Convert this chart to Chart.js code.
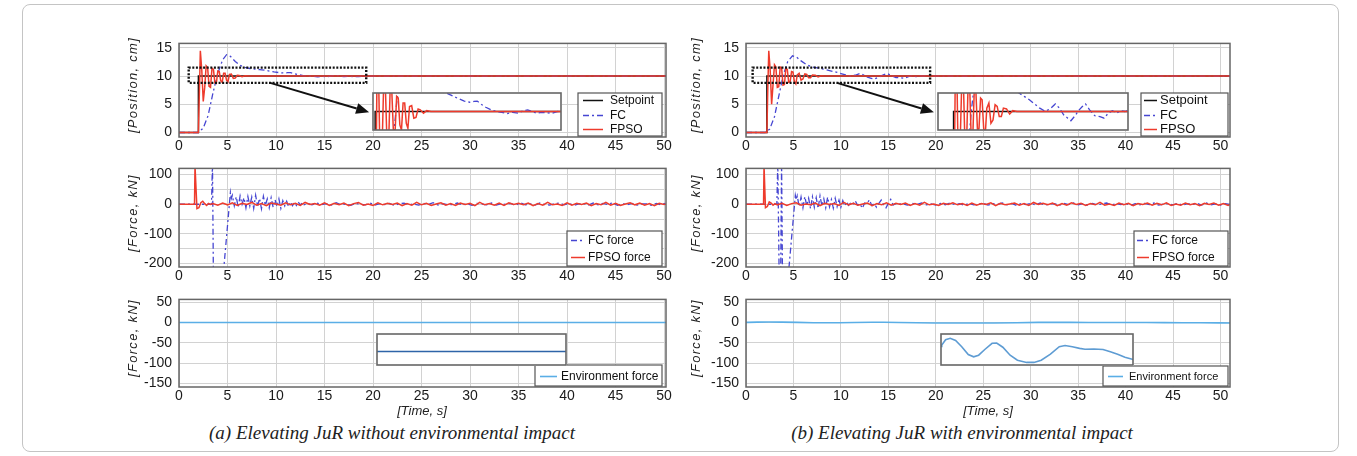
<!DOCTYPE html>
<html><head><meta charset="utf-8">
<script src="https://cdn.jsdelivr.net/npm/chart.js@4.4.0/dist/chart.umd.min.js"></script>
<style>
html,body{margin:0;padding:0;background:#fff;}
body{width:1357px;height:456px;position:relative;overflow:hidden;font-family:"Liberation Sans",Arial,sans-serif;}
#frame{position:absolute;left:22px;top:4px;width:1315px;height:446px;border:1px solid #c4c4c4;border-radius:8px;}
.cv{position:absolute;}
.ytitle{position:absolute;font-style:italic;font-size:13px;letter-spacing:1.3px;color:#222;white-space:nowrap;transform:translate(-50%,-50%) rotate(-90deg);}
.xtitle{position:absolute;font-style:italic;font-size:13px;color:#222;transform:translate(-50%,-50%);white-space:nowrap;}
.caption{position:absolute;font-family:"Liberation Serif","Times New Roman",serif;font-style:italic;font-size:19px;color:#222;transform:translate(-50%,-50%);white-space:nowrap;}
</style></head>
<body>
<div id="frame"></div>
<script>
// ---------------- DATA ----------------
const timeTicks = [0,5,10,15,20,25,30,35,40,45,50];
const posTicks = [0,5,10,15];
const frcGrid = [-200,-150,-100,-50,0,50,100];
const frcLabels = [-200,-100,0,100];
const envTicks = [-150,-100,-50,0,50];

// (a) position [time s, cm]
const setpointA = [[0,0],[2.0,0],[2.0,10],[51,10]];
const fpsoPosA = [[0,0],[2.0,0],[2.1,7],[2.2,14.5],[2.35,11],[2.5,5.5],[2.65,8],[2.8,11.8],[2.95,11.5],[3.1,8.2],[3.25,8.0],[3.4,11.4],[3.55,11.2],[3.7,8.8],[3.85,8.7],[4.0,10.9],[4.15,10.8],[4.3,9.2],[4.45,8.9],[4.6,10.5],[4.75,10.5],[4.9,9.3],[5.05,9.0],[5.2,10.3],[5.4,10.35],[5.6,9.6],[5.8,9.65],[6.0,10.15],[6.2,10.1],[6.5,9.9],[6.8,10.05],[7.2,10],[51,10]];
const fcPosA = [[0,0],[2.0,0],[2.5,0.8],[3.0,3.0],[3.5,7.0],[4.0,10.5],[4.5,12.9],[4.9,13.8],[5.3,13.5],[5.8,12.6],[6.3,11.9],[6.8,11.55],[7.3,11.35],[7.8,11.25],[8.3,11.15],[8.8,11.05],[9.3,10.9],[9.8,10.75],[10.3,10.62],[10.8,10.55],[11.2,10.6],[11.5,10.62],[11.9,10.42],[12.3,10.25],[12.8,10.1],[13.3,10.0],[13.8,9.95],[14.3,9.88],[14.8,9.95],[15.3,9.9],[15.8,10.05],[16.2,10.1],[16.6,10.0],[17.0,9.9],[17.5,9.95],[18.0,9.92],[18.5,9.9],[19.0,10.0],[20,10],[51,10]];

// (b) position
const setpointB = [[0,0],[2.2,0],[2.2,10],[51,10]];
const fpsoPosB = [[0,0],[2.2,0],[2.3,8],[2.4,14.5],[2.55,11],[2.7,5],[2.85,8.5],[3.0,12],[3.15,11.6],[3.3,8.0],[3.45,8.1],[3.6,11.6],[3.75,11.5],[3.9,8.4],[4.05,8.5],[4.2,11.4],[4.35,11.2],[4.5,8.9],[4.65,9.0],[4.8,10.8],[4.95,10.7],[5.1,9.0],[5.25,8.6],[5.4,10.2],[5.6,10.5],[5.8,9.3],[6.0,9.5],[6.2,10.4],[6.4,10.3],[6.6,9.7],[6.8,9.7],[7.0,10.2],[7.3,10.15],[7.6,9.85],[7.9,10.05],[8.3,10],[51,10]];
const fcPosB = [[0,0],[2.0,0],[2.5,0.6],[3.0,2.8],[3.5,6.8],[3.9,10],[4.4,12.6],[4.9,13.6],[5.3,13.4],[5.8,12.7],[6.4,12.0],[7.0,11.6],[7.5,11.45],[8.0,11.3],[8.5,11.1],[9.0,10.9],[9.5,10.7],[10.0,10.45],[10.5,10.2],[11.0,10.02],[11.5,10.15],[12.0,10.45],[12.4,10.2],[12.8,9.8],[13.2,9.6],[13.5,9.45],[13.9,9.75],[14.3,10.1],[14.6,10.3],[14.9,10.45],[15.3,10.1],[15.8,9.75],[16.3,9.7],[16.7,9.6],[17.1,9.9],[17.5,10.05],[17.9,9.9],[18.3,10.05],[18.7,10.0],[19.2,10.1],[20,10],[51,10]];

// (a) forces [time s, kN]
const fpsoFrcA = [[0,0],[1.6,0],[1.65,130],[1.75,130],[1.85,-15],[2.05,-12],[2.25,5],[2.45,10],[2.65,2],[2.85,-4],[3.05,3],[3.25,-1]];
const fpsoFrcTailA = [2,-3,4,-2,5,-4,3,-1,6,-3, 2,-5,4,1,-3,5,-2,3,-4,6, -1,2,-3,5,-4,3,-2,4,-5,2, 6,-3,1,-4,5,-2,3,-1,4,-5, 2,-3,6,-2,3,-4,1,5,-3,2, -4,4,-1,3,-5,6,-2,2,-3,4, -4,5,-1,3,-2,4,-5,2,-3,6, -2,1,-4,5,-3,3,-1,4,-5,2, -2,6,-3,3,-4,1,5,-2,4,-3, 2,-5,3,-1,4,-2,3,-4,5,-1];
const fcFrcA = [[0,0],[3.35,0],[3.45,140],[3.55,-260],[4.5,-260],[5.3,40],[5.4,20]];
const fcFrcMidA = [30,-5,25,-10,28,0,22,-12,26,-6,24,-14,30,-8,20,-15,27,-4,18,-12,22,-10,15,-8,18,-14,12,-6,10,-9,8,-5,6,-4,7,-3,5,-2];
const fcFrcTailA = [3,-2,4,-1,2,-3,5,-2,1,-4, 3,0,-2,4,-3,2,-1,3,-4,2, 4,-2,1,-3,3,-1,5,-3,2,-2, -1,4,-3,2,-4,3,1,-2,4,-3, 2,-1,3,-4,5,-2,1,-3,4,-1, -3,2,4,-2,3,-4,1,2,-3,4, -2,3,-1,5,-4,2,-2,3,-3,1, 1,-4,3,-2,4,-1,2,-3];

// (b) forces
const fpsoFrcB = [[0,0],[1.85,0],[1.9,130],[1.95,130],[2.05,-12],[2.25,-8],[2.45,8],[2.65,4],[2.85,-3],[3.05,2]];
const fpsoFrcTailB = [-2,3,-4,2,5,-3,1,-2,4,-5, 3,-1,2,-4,6,-2,3,-3,1,4, -5,2,-2,5,-3,3,-1,4,-4,2, -3,6,-2,1,-4,3,-1,5,-2,2, -4,4,-3,2,-1,5,-5,3,-2,1, 4,-3,2,-4,6,-1,3,-2,4,-5, 2,-3,5,-1,3,-4,2,-2,6,-3, 1,-4,4,-2,3,-5,2,-1,4,-3, 3,-2,5,-4,1,-3,4,-2,2,-5, 3,-1,4,-3,2,-4,5,-2,1,-3];
const fcFrcB = [[0,0],[3.25,0],[3.35,140],[3.5,-260],[3.65,-260],[3.75,140],[3.85,-260],[4.4,-260],[5.2,30],[5.3,15]];
const fcFrcMidB = [28,-8,24,-12,26,-5,20,-15,25,-10,22,-14,28,-6,18,-12,24,-9,16,-13,20,-8,14,-10,12,-6,9,-4];
const fcFrcSpikeB = [3,-2,12,-3,2,-14,4,1,15,-4,2,-10,3,14,-2,-12,3,16,-3,2,-2,1];
const fcFrcTailB = [2,-3,3,-1,4,-2,1,-3,3,-2, 4,-1,2,-4,3,-2,1,3,-3,2, -1,4,-2,3,-4,2,-1,3,-2,4, -3,1,2,-4,3,-1,4,-2,2,-3, 3,-2,1,4,-3,2,-1,3,-4,2, -2,3,-1,4,-3,1,2,-2,3,-4, 2,-1,3,-3,4,-2,1,-3,2,-1];

// environment force [time s, kN]
const envA = [[0,0],[51,0]];
const envB = [[0,0.3],[0.2,0.42],[1.2,0.95],[2.4,1.09],[3.8,0.87],[5.4,0.27],[7.1,-0.49],[8.5,-0.71],[9.8,-0.55],[11.4,0.0],[13.3,0.6],[14.5,0.63],[16.1,0.22],[18.0,-0.55],[19.9,-1.04],[22.3,-1.25],[24.2,-1.25],[26.1,-1.04],[28.5,-0.44],[30.8,0.27],[32.3,0.38],[34.2,0.27],[36.1,0.11],[37.5,0.03],[39.8,0.05],[42.2,0.0],[44.1,-0.22],[46.0,-0.46],[47.9,-0.76],[49.8,-0.95],[51,-1.05]];

// ---------------- LAYOUT ----------------
const COLS = {
  a:{cl:125, pl:179, pr:666, xMax:50.2, titleX:132, timeX:422, capX:392},
  b:{cl:688, pl:746, pr:1230, xMax:51, titleX:695, timeX:988, capX:962}
};
const ROWS = {
  pos:{ct:28, pt:33, pb:137, cb:156, yMin:-0.8, yMax:15.8},
  frc:{ct:153, pt:158, pb:267, cb:287, yMin:-212, yMax:121},
  env:{ct:284, pt:289, pb:387, cb:406, yMin:-159, yMax:57}
};

Chart.defaults.font.family = '"Liberation Sans", Arial, sans-serif';
Chart.defaults.color = '#1a1a1a';

const pts = arr => arr.map(([x,y]) => ({x, y}));
const tail = (t0, dt, vals) => vals.map((v,i) => ({x: +(t0 + i*dt).toFixed(3), y: v}));

const STY = {
  setpoint:{borderColor:'#111111', borderWidth:1.5, order:3},
  fc:{borderColor:'#4646d2', borderWidth:1.3, borderDash:[6,3,2,3], order:2},
  fpso:{borderColor:'#ee3b2c', borderWidth:1.5, order:1},
  env:{borderColor:'#5aaee6', borderWidth:1.6, order:1}
};
function ds(label, data, sty){ return Object.assign({label, data, pointRadius:0, tension:0, fill:false}, sty); }

// ---------------- PLUGINS ----------------
const frameBox = {
  id:'frameBox',
  beforeDraw(ch, a, o){
    if (o && o.bg){ const c=ch.ctx; c.save(); c.fillStyle='#fff'; c.fillRect(0,0,ch.width,ch.height); c.restore(); }
  },
  afterDraw(ch, a, o){
    const c=ch.ctx, ca=ch.chartArea; c.save();
    c.strokeStyle=(o&&o.color)||'#666'; c.lineWidth=(o&&o.width)||1.5;
    c.strokeRect(ca.left, ca.top, ca.right-ca.left, ca.bottom-ca.top); c.restore();
  }
};
const boxLegend = {
  id:'boxLegend',
  afterDraw(ch, a, o){
    if (!o || !o.w) return;
    const c=ch.ctx, ca=ch.chartArea;
    const x=ca.right-o.mr-o.w, y=ca.bottom-o.mb-o.h;
    c.save(); c.fillStyle='#fff'; c.fillRect(x,y,o.w,o.h);
    c.strokeStyle='#555'; c.lineWidth=1.2; c.strokeRect(x,y,o.w,o.h);
    const items = ch.data.datasets;
    const rh = o.h/items.length;
    items.forEach((d,i)=>{
      const cy = Math.round(y + rh*(i+0.5)) + 0.5;
      c.strokeStyle=d.borderColor; c.lineWidth=d.borderWidth||1.5; c.setLineDash(d.borderDash||[]);
      c.beginPath(); c.moveTo(x+o.lx0, cy); c.lineTo(x+o.lx1, cy); c.stroke(); c.setLineDash([]);
      c.fillStyle='#111'; c.font=o.fs+'px "Liberation Sans", Arial, sans-serif'; c.textBaseline='middle';
      c.fillText(d.label, x+o.tx, cy);
    });
    c.restore();
  }
};
const annot = {
  id:'annot',
  afterDatasetsDraw(ch, a, o){
    if (!o || !o.rect) return;
    const c=ch.ctx, X=v=>ch.scales.x.getPixelForValue(v), Y=v=>ch.scales.y.getPixelForValue(v);
    c.save(); c.strokeStyle='#111'; c.lineWidth=2.4; c.setLineDash([2,1.6]);
    c.strokeRect(X(o.rect[0]), Y(o.rect[3]), X(o.rect[1])-X(o.rect[0]), Y(o.rect[2])-Y(o.rect[3]));
    c.setLineDash([]);
    const x1=X(o.arrow[0]), y1=Y(o.arrow[1]), x2=X(o.arrow[2]), y2=Y(o.arrow[3]);
    const ang=Math.atan2(y2-y1, x2-x1), hl=13, hw=5.5;
    const xb=x2-hl*Math.cos(ang), yb=y2-hl*Math.sin(ang);
    c.lineWidth=2; c.beginPath(); c.moveTo(x1,y1); c.lineTo(xb,yb); c.stroke();
    c.fillStyle='#111'; c.beginPath(); c.moveTo(x2,y2);
    c.lineTo(xb+hw*Math.sin(ang), yb-hw*Math.cos(ang));
    c.lineTo(xb-hw*Math.sin(ang), yb+hw*Math.cos(ang)); c.closePath(); c.fill();
    c.restore();
  }
};
Chart.register(frameBox, boxLegend, annot);

// ---------------- BUILDERS ----------------
function mkCanvas(l,t,w,h){
  const cv=document.createElement('canvas'); cv.width=w; cv.height=h; cv.className='cv';
  Object.assign(cv.style,{left:l+'px',top:t+'px',width:w+'px',height:h+'px'});
  document.body.appendChild(cv); return cv;
}
function mainChart(col,row,datasets,yTicks,yLabels,legendOpt,annotOpt){
  const c=COLS[col], r=ROWS[row];
  const W=c.pr+14-c.cl, H=r.cb-r.ct;
  const cv=mkCanvas(c.cl, r.ct, W, H);
  const ch=new Chart(cv,{type:'line',data:{datasets},options:{
    responsive:false, animation:false, devicePixelRatio:1,
    layout:{padding:{left:0,top:r.pt-r.ct,right:W-(c.pr-c.cl),bottom:0}},
    scales:{
      x:{type:'linear',min:0,max:c.xMax,
        afterBuildTicks:s=>{s.ticks=timeTicks.map(v=>({value:v}));},
        afterFit:s=>{s.height=r.cb-r.pb;},
        ticks:{padding:1,font:{size:14},color:'#1a1a1a',maxRotation:0,autoSkip:false,callback:v=>String(v)},
        grid:{color:'#d2d2d2',drawTicks:false}, border:{display:false}},
      y:{type:'linear',min:r.yMin,max:r.yMax,
        afterBuildTicks:s=>{s.ticks=yTicks.map(v=>({value:v}));},
        afterFit:s=>{s.width=c.pl-c.cl;},
        ticks:{padding:7,font:{size:14},color:'#1a1a1a',autoSkip:false,callback:v=>yLabels.includes(v)?String(v):''},
        grid:{color:'#d2d2d2',drawTicks:false}, border:{display:false}}
    },
    plugins:{legend:{display:false},tooltip:{enabled:false},frameBox:{},boxLegend:legendOpt,annot:annotOpt||{}}
  }});
  return {ch, left:c.cl, top:r.ct};
}
function insetChart(main, rect, datasets, xr, yr){
  const xs=main.ch.scales.x, ys=main.ch.scales.y;
  const l=Math.round(main.left+xs.getPixelForValue(rect[0]));
  const rr=Math.round(main.left+xs.getPixelForValue(rect[1]));
  const t=Math.round(main.top+ys.getPixelForValue(rect[3]));
  const b=Math.round(main.top+ys.getPixelForValue(rect[2]));
  const cv=mkCanvas(l,t,rr-l,b-t);
  return new Chart(cv,{type:'line',data:{datasets},options:{
    responsive:false, animation:false, devicePixelRatio:1, layout:{padding:1},
    scales:{x:{type:'linear',display:false,min:xr[0],max:xr[1]},y:{type:'linear',display:false,min:yr[0],max:yr[1]}},
    plugins:{legend:{display:false},tooltip:{enabled:false},frameBox:{bg:true,color:'#666',width:1.6}}
  }});
}
function addText(cls, text, x, y){
  const d=document.createElement('div'); d.className=cls; d.textContent=text;
  d.style.left=x+'px'; d.style.top=y+'px'; document.body.appendChild(d);
}

// ---------------- CHARTS ----------------
const posDs = (sp, fc, fp) => [ds('Setpoint', pts(sp), STY.setpoint), ds('FC', pts(fc), STY.fc), ds('FPSO', pts(fp), STY.fpso)];
const frcA = () => [ds('FC force', pts(fcFrcA).concat(tail(5.5,0.2,fcFrcMidA), tail(13.2,0.5,fcFrcTailA)), STY.fc),
                    ds('FPSO force', pts(fpsoFrcA).concat(tail(3.5,0.5,fpsoFrcTailA)), STY.fpso)];
const frcB = () => [ds('FC force', pts(fcFrcB).concat(tail(5.4,0.2,fcFrcMidB), tail(11.0,0.25,fcFrcSpikeB), tail(16.5,0.5,fcFrcTailB)), STY.fc),
                    ds('FPSO force', pts(fpsoFrcB).concat(tail(3.3,0.5,fpsoFrcTailB)), STY.fpso)];

const mPosA = mainChart('a','pos', posDs(setpointA, fcPosA, fpsoPosA), posTicks, posTicks,
  {w:84,h:43,mr:4,mb:1,fs:12,lx0:5,lx1:25,tx:32},
  {rect:[1.0,19.3,8.8,11.5], arrow:[9.4,8.8,19.6,3.6]});
const mPosB = mainChart('b','pos', posDs(setpointB, fcPosB, fpsoPosB), posTicks, posTicks,
  {w:87,h:43,mr:2,mb:1,fs:13,lx0:3,lx1:16,tx:19},
  {rect:[0.7,19.4,8.8,11.5], arrow:[9.6,8.8,19.8,3.6]});
const mFrcA = mainChart('a','frc', frcA(), frcGrid, frcLabels, {w:95,h:35,mr:4,mb:1,fs:12,lx0:4,lx1:18,tx:21});
const mFrcB = mainChart('b','frc', frcB(), frcGrid, frcLabels, {w:94,h:35,mr:2,mb:1,fs:12,lx0:3,lx1:15,tx:18});
const mEnvA = mainChart('a','env', [ds('Environment force', pts(envA), STY.env)], envTicks, envTicks, {w:127,h:21,mr:4,mb:1,fs:12,lx0:5,lx1:22,tx:26});
const mEnvB = mainChart('b','env', [ds('Environment force', pts(envB), STY.env)], envTicks, envTicks, {w:125,h:20,mr:2,mb:1,fs:11,lx0:5,lx1:20,tx:26});

// insets (zoomed views of the same series)
insetChart(mPosA, [19.9,39.5,0.3,7.2], posDs(setpointA, fcPosA, fpsoPosA), [1.8,19.3], [8.9,11.1]);
insetChart(mPosB, [20.1,40.4,0.3,7.2], posDs(setpointB, fcPosB, fpsoPosB), [0.7,19.0], [8.9,11.1]);
insetChart(mEnvA, [20.3,40.0,-106,-25], [ds('Environment force', pts(envA), {borderColor:'#2e64a8', borderWidth:1.6})], [0,51], [-1.3,1.7]);
insetChart(mEnvB, [20.4,40.9,-106,-25], [ds('Environment force', pts(envB), {borderColor:'#5e9cd3', borderWidth:1.6})], [0,50], [-1.5,1.5]);

// titles
['a','b'].forEach(k=>{
  const c=COLS[k];
  addText('ytitle','[Position, cm]', c.titleX, (ROWS.pos.pt+ROWS.pos.pb)/2);
  addText('ytitle','[Force, kN]', c.titleX, (ROWS.frc.pt+ROWS.frc.pb)/2);
  addText('ytitle','[Force, kN]', c.titleX, (ROWS.env.pt+ROWS.env.pb)/2);
  addText('xtitle','[Time, s]', c.timeX, 410);
});
addText('caption','(a) Elevating JuR without environmental impact', COLS.a.capX, 433);
addText('caption','(b) Elevating JuR with environmental impact', COLS.b.capX, 433);
</script>
</body></html>
